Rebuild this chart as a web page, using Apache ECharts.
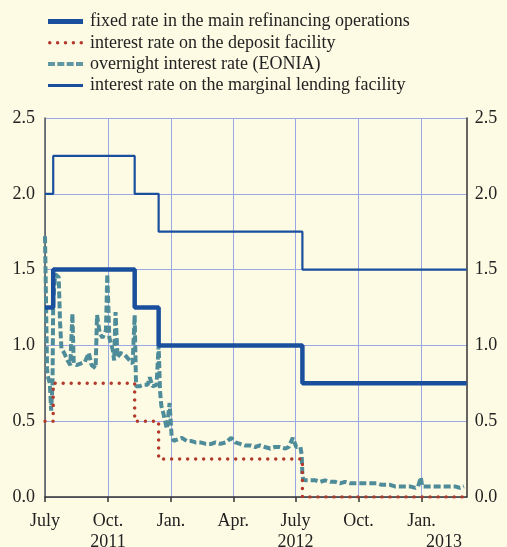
<!DOCTYPE html>
<html>
<head>
<meta charset="utf-8">
<script src="https://cdn.jsdelivr.net/npm/echarts@6/dist/echarts.min.js"></script>
<style>
html,body{margin:0;padding:0;background:#fefbe4;}
#chart{width:507px;height:547px;}
</style>
</head>
<body>
<div id="chart"></div>
<script>
// ---- data ----
const axisStart = '2011-07-01';
const axisEnd = '2013-03-08';
const quarterTicks = ['2011-07-01','2011-10-01','2012-01-01','2012-04-01','2012-07-01','2012-10-01','2013-01-01'];
const quarterLabels = ['July','Oct.','Jan.','Apr.','July','Oct.','Jan.'];
const yearLabelDates = ['2011-10-01','2012-07-01','2013-02-03'];
const yearLabels = ['2011','2012','2013'];

const seriesNames = [
  'fixed rate in the main refinancing operations',
  'interest rate on the deposit facility',
  'overnight interest rate (EONIA)',
  'interest rate on the marginal lending facility'
];

const rateChangeDates = ['2011-07-01','2011-07-13','2011-11-09','2011-12-14','2012-07-11','2013-03-08'];
const mroRates = [1.25, 1.50, 1.25, 1.00, 0.75, 0.75];
const depositRates = [0.50, 0.75, 0.50, 0.25, 0.00, 0.00];
const lendingRates = [2.00, 2.25, 2.00, 1.75, 1.50, 1.50];

const eoniaDates = [
 '2011-07-01','2011-07-04','2011-07-05','2011-07-08','2011-07-10','2011-07-12','2011-07-13','2011-07-16','2011-07-21','2011-07-23',
 '2011-07-25','2011-07-29','2011-08-03','2011-08-07','2011-08-10','2011-08-12','2011-08-16','2011-08-22','2011-08-28','2011-09-03',
 '2011-09-07','2011-09-13','2011-09-15','2011-09-19','2011-09-23','2011-09-28','2011-09-30','2011-10-03','2011-10-08','2011-10-10',
 '2011-10-12','2011-10-15','2011-10-19','2011-10-25','2011-10-31','2011-11-06','2011-11-09','2011-11-11','2011-11-16','2011-11-22',
 '2011-11-28','2011-12-01','2011-12-05','2011-12-11','2011-12-14','2011-12-16','2011-12-18','2011-12-21','2011-12-26','2011-12-30',
 '2012-01-02','2012-01-05','2012-01-11','2012-01-17','2012-01-24','2012-01-30','2012-02-06','2012-02-13','2012-02-21','2012-02-29',
 '2012-03-06','2012-03-13','2012-03-21','2012-03-29','2012-04-04','2012-04-11','2012-04-18','2012-04-26','2012-05-03','2012-05-10',
 '2012-05-17','2012-05-25','2012-06-01','2012-06-08','2012-06-16','2012-06-21','2012-06-27','2012-07-02','2012-07-08','2012-07-10',
 '2012-07-11','2012-07-12','2012-07-15','2012-07-22','2012-07-30','2012-08-06','2012-08-13','2012-08-21','2012-08-28','2012-09-04',
 '2012-09-11','2012-09-19','2012-09-26','2012-10-03','2012-10-11','2012-10-18','2012-10-28','2012-11-04','2012-11-16','2012-11-23',
 '2012-12-01','2012-12-08','2012-12-15','2012-12-23','2012-12-27','2012-12-31','2013-01-02','2013-01-07','2013-01-14','2013-01-22',
 '2013-01-29','2013-02-05','2013-02-12','2013-02-19','2013-02-26','2013-03-04'
];
const eoniaValues = [
 1.72,0.85,0.80,0.75,0.57,0.75,1.30,1.47,1.45,1.15,
 0.98,0.95,0.90,0.87,1.21,0.88,0.87,0.88,0.89,0.95,
 0.87,0.85,1.20,1.08,1.05,1.10,1.47,1.05,0.97,0.90,
 1.22,0.92,0.95,0.94,0.91,0.88,1.20,0.73,0.73,0.74,
 0.74,0.79,0.73,0.74,1.00,0.70,0.60,0.55,0.45,0.62,
 0.40,0.37,0.38,0.39,0.37,0.37,0.36,0.36,0.35,0.35,
 0.36,0.35,0.36,0.39,0.36,0.35,0.34,0.34,0.33,0.34,
 0.33,0.32,0.33,0.33,0.32,0.33,0.39,0.33,0.33,0.28,
 0.14,0.12,0.11,0.11,0.11,0.10,0.11,0.10,0.10,0.09,
 0.10,0.09,0.09,0.09,0.09,0.09,0.09,0.08,0.08,0.07,
 0.07,0.07,0.07,0.06,0.07,0.13,0.07,0.07,0.07,0.07,
 0.07,0.07,0.07,0.07,0.06,0.07
];

// ---- chart ----
const ts = s => Date.UTC(+s.slice(0, 4), +s.slice(5, 7) - 1, +s.slice(8, 10));
const zip = (d, v) => d.map((x, i) => [ts(x), v[i]]);
const font = '"Liberation Serif", "Times New Roman", serif';
const txt = '#222222';
const gridCol = '#9aa9e6';
const blue = '#1a4f9e';
const red = '#b23a2c';
const teal = '#4e8c9a';

// legend icon glyphs (35 px wide)
const circ = cx => `M${cx - 1.75},1.75a1.75,1.75 0 1,0 3.5,0a1.75,1.75 0 1,0 -3.5,0`;
const dotIcon = 'path://' + [1.75, 9.625, 17.5, 25.375, 33.25].map(circ).join('');
const dashIcon = 'path://' + [0, 9.33, 18.67, 28].map(x => `M${x},0L${x + 7},0L${x + 7},4L${x},4Z`).join('');

const monthByTs = {};
quarterTicks.forEach((d, i) => { monthByTs[ts(d)] = quarterLabels[i]; });
const yearByTs = {};
yearLabelDates.forEach((d, i) => { yearByTs[ts(d)] = yearLabels[i]; });

const chart = echarts.init(document.getElementById('chart'), null, {renderer: 'canvas'});
chart.setOption({
  backgroundColor: '#fefbe4',
  animation: false,
  textStyle: {fontFamily: font},
  legend: {
    orient: 'vertical',
    left: 43, top: 7.5,
    itemWidth: 35, itemHeight: 18, itemGap: 3.3,
    textStyle: {fontFamily: font, fontSize: 18, color: txt, lineHeight: 18, padding: [0, 0, 0, 2]},
    data: [
      {name: seriesNames[0], icon: 'path://M0,0L35,0L35,5L0,5Z', itemStyle: {color: blue}},
      {name: seriesNames[1], icon: dotIcon, itemStyle: {color: red}},
      {name: seriesNames[2], icon: dashIcon, itemStyle: {color: '#5f97a4'}},
      {name: seriesNames[3], icon: 'path://M0,0L35,0L35,3L0,3Z', itemStyle: {color: blue}}
    ]
  },
  grid: {left: 45, right: 40.3, top: 118, bottom: 50, outerBoundsMode: 'none', containLabel: false},
  xAxis: [{
    type: 'value',
    min: ts(axisStart), max: ts(axisEnd),
    axisLine: {show: true, lineStyle: {color: '#333', width: 1.5}},
    axisTick: {show: true, length: 5, customValues: quarterTicks.map(ts), lineStyle: {color: '#333', width: 1.5}},
    axisLabel: {
      customValues: quarterTicks.map(ts),
      margin: 15, fontSize: 18, color: txt, fontFamily: font,
      formatter: v => monthByTs[v] || ''
    },
    splitLine: {show: true, lineStyle: {color: gridCol, width: 1}}
  }, {
    type: 'value',
    position: 'bottom',
    min: ts(axisStart), max: ts(axisEnd),
    axisLine: {show: false}, axisTick: {show: false},
    splitLine: {show: false},
    axisLabel: {
      customValues: yearLabelDates.map(ts),
      margin: 36, fontSize: 18, color: txt, fontFamily: font,
      formatter: v => yearByTs[v] || ''
    }
  }],
  yAxis: [{
    type: 'value', min: 0, max: 2.5, interval: 0.5,
    axisLine: {show: true, lineStyle: {color: '#555', width: 1.5}},
    axisTick: {show: false},
    axisLabel: {margin: 10, fontSize: 18, color: txt, fontFamily: font, formatter: v => v.toFixed(1)},
    splitLine: {show: true, lineStyle: {color: gridCol, width: 1}}
  }, {
    type: 'value', min: 0, max: 2.5, interval: 0.5, position: 'right',
    axisLine: {show: true, lineStyle: {color: '#333', width: 1.5}},
    axisTick: {show: false},
    axisLabel: {margin: 8, fontSize: 18, color: txt, fontFamily: font, formatter: v => v.toFixed(1)},
    splitLine: {show: false}
  }],
  series: [
    {
      name: seriesNames[2], type: 'line', data: zip(eoniaDates, eoniaValues),
      symbol: 'none', z: 2,
      lineStyle: {color: teal, width: 4, type: [7, 3]}, itemStyle: {color: teal}
    },
    {
      name: seriesNames[1], type: 'line', step: 'end', data: zip(rateChangeDates, depositRates),
      symbol: 'none', z: 3,
      lineStyle: {color: red, width: 3.5, type: [0.01, 8], cap: 'round'}, itemStyle: {color: red}
    },
    {
      name: seriesNames[3], type: 'line', step: 'end', data: zip(rateChangeDates, lendingRates),
      symbol: 'none', z: 4,
      lineStyle: {color: blue, width: 2.2}, itemStyle: {color: blue}
    },
    {
      name: seriesNames[0], type: 'line', step: 'end', data: zip(rateChangeDates, mroRates),
      symbol: 'none', z: 5,
      lineStyle: {color: blue, width: 4.5}, itemStyle: {color: blue}
    }
  ]
});
</script>
</body>
</html>
